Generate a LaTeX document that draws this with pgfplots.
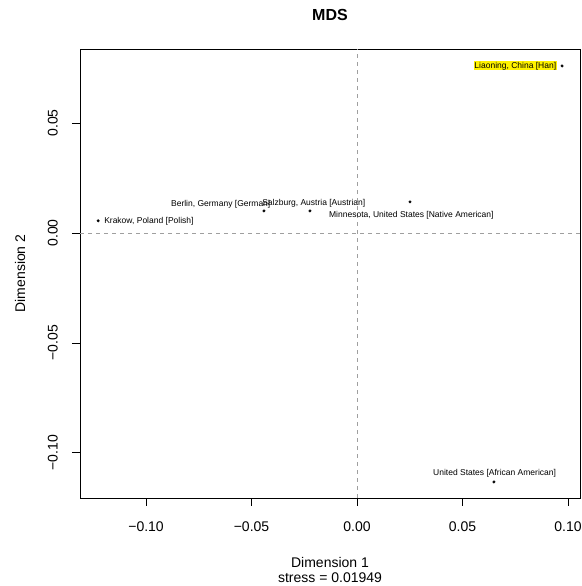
\documentclass[border=0pt]{standalone}
\usepackage{fontspec}
\setmainfont{Liberation Sans}
\usepackage{pgfplots}
\pgfplotsset{compat=1.18}
\begin{document}
\begin{tikzpicture}[x=1bp,y=1bp]
\useasboundingbox (0,0) rectangle (582,586);
\begin{axis}[
  at={(80bp,88bp)}, anchor=south west,
  scale only axis, width=500bp, height=449bp,
  xmin=-0.1313, xmax=0.1057, ymin=-0.1205, ymax=0.0836,
  axis line style={line width=0.9bp, black},
  tick style={line width=0.8bp, black},
  tick align=outside, major tick length=8bp,
  xtick pos=left, ytick pos=left,
  xtick={-0.1,-0.05,0,0.05,0.1},
  xticklabels={−0.10,−0.05,0.00,0.05,0.10},
  ytick={-0.1,-0.05,0,0.05},
  yticklabels={−0.10,−0.05,0.00,0.05},
  ticklabel style={font=\fontsize{14bp}{16bp}\selectfont, inner sep=0pt},
  xticklabel style={anchor=north},
  yticklabel style={rotate=90, anchor=south},
  xticklabel shift=16bp,
  yticklabel shift=14bp,
  xlabel={Dimension 1\\stress = 0.01949},
  xlabel style={font=\fontsize{14bp}{15bp}\selectfont, align=center, at={(axis description cs:0.5,-0.1328)}, anchor=north, inner sep=0pt},
  ylabel={Dimension 2},
  ylabel style={font=\fontsize{14bp}{16bp}\selectfont, at={(axis description cs:-0.12,0.5)}, anchor=center, rotate=0, inner sep=0pt},
  title={MDS},
  title style={font=\fontsize{16bp}{18bp}\selectfont\bfseries, at={(axis description cs:0.5,1.0624)}, anchor=center, inner sep=0pt},
  clip=false,
]
\addplot[gray!75, line width=0.6bp, dash pattern=on 4bp off 4bp] coordinates {(0,-0.1205) (0,0.0836)};
\addplot[gray!75, line width=0.6bp, dash pattern=on 4bp off 4bp] coordinates {(-0.1313,0) (0.1057,0)};
\addplot[only marks, mark=*, mark size=1.3bp, black] coordinates {
  (0.0972,0.0759)
  (-0.1227,0.0055)
  (-0.0441,0.0100)
  (-0.0223,0.0100)
  (0.0251,0.0141)
  (0.0649,-0.1132)
};
\begin{scope}[every node/.style={font=\fontsize{8.5bp}{10bp}\selectfont, inner sep=0pt}]
\node[anchor=east, fill=yellow, inner sep=0.6bp] at (axis cs:0.0948,0.0759) {Liaoning, China [Han]};
\node[anchor=west] at (axis cs:-0.1199,0.0055) {Krakow, Poland [Polish]};
\node[anchor=west] at (axis cs:-0.0882,0.0132) {Berlin, Germany [German]};
\node[anchor=west] at (axis cs:-0.0450,0.0136) {Salzburg, Austria [Austrian]};
\node[anchor=west] at (axis cs:-0.0133,0.0082) {Minnesota, United States [Native American]};
\node[anchor=west] at (axis cs:0.0360,-0.1095) {United States [African American]};
\end{scope}
\end{axis}
\end{tikzpicture}
\end{document}
